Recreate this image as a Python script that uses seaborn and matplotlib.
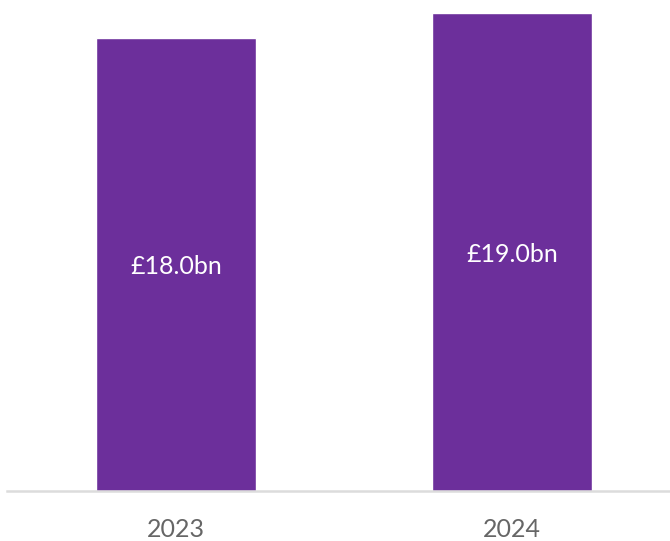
import matplotlib
matplotlib.use("Agg")
import matplotlib.pyplot as plt
import seaborn as sns
import pandas as pd

years = ["2023", "2024"]
values = [18.0, 19.0]
labels = ["£18.0bn", "£19.0bn"]

sns.set_theme(style="white")
plt.rcParams["font.family"] = ["Lato", "DejaVu Sans"]

df = pd.DataFrame({"year": years, "value": values})

fig = plt.figure(figsize=(6.70, 5.41), dpi=100)
ax = fig.add_axes([7 / 670, 50 / 541, 663 / 670, 491 / 541])

sns.barplot(data=df, x="year", y="value", color="#6C2F9B", saturation=1,
            width=0.476, ax=ax)

ax.set_xlim(-0.503, 1.470)
ax.set_ylim(0, 19.52)

for i, (v, lab) in enumerate(zip(values, labels)):
    ax.text(i, v / 2, lab, ha="center", va="center_baseline", color="white",
            fontsize=18, fontweight="normal")

for s in ["top", "right", "left"]:
    ax.spines[s].set_visible(False)
ax.spines["bottom"].set_color("#dcdcdc")
ax.spines["bottom"].set_linewidth(1.8)

ax.set_yticks([])
ax.set_xlabel("")
ax.set_ylabel("")
ax.tick_params(axis="x", length=0, pad=28, labelsize=18, labelcolor="#666666")
for t in ax.get_xticklabels():
    t.set_va("center")

fig.savefig("out.png", dpi=100)
